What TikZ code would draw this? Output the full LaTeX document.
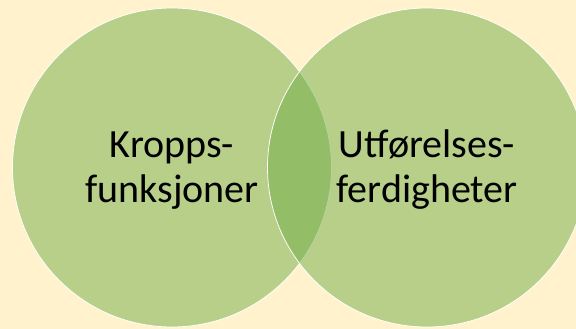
\documentclass[tikz,border=0pt]{standalone}
\usepackage{fontspec}
\setmainfont{Carlito}
\usetikzlibrary{positioning}
\definecolor{bgcream}{HTML}{FFF2CC}
\definecolor{venngreen}{HTML}{70AD47}

\begin{document}
\begin{tikzpicture}[x=1pt, y=1pt,
    venn/.style={circle, minimum size=319pt, inner sep=0pt, outer sep=0pt,
      fill=venngreen, fill opacity=0.5, draw=white, line width=0.75pt},
    label/.style={align=center, text=black, font=\fontsize{40}{45}\selectfont}]
  \fill[bgcream] (0,0) rectangle (576,329);
  \useasboundingbox (0,0) rectangle (576,329);

  % the two sets
  \node[venn] (kropp) at (172,161.5) {};
  \node[venn] (utfor) at (427,161.5) {};

  \node[label] (kropptxt) at ([yshift=-3pt]kropp.center) {Kropps-\\funksjoner};
  \node[label] (utfortxt) at ([yshift=-2pt]utfor.center) {Utførelses-\\ferdigheter};
\end{tikzpicture}
\end{document}
